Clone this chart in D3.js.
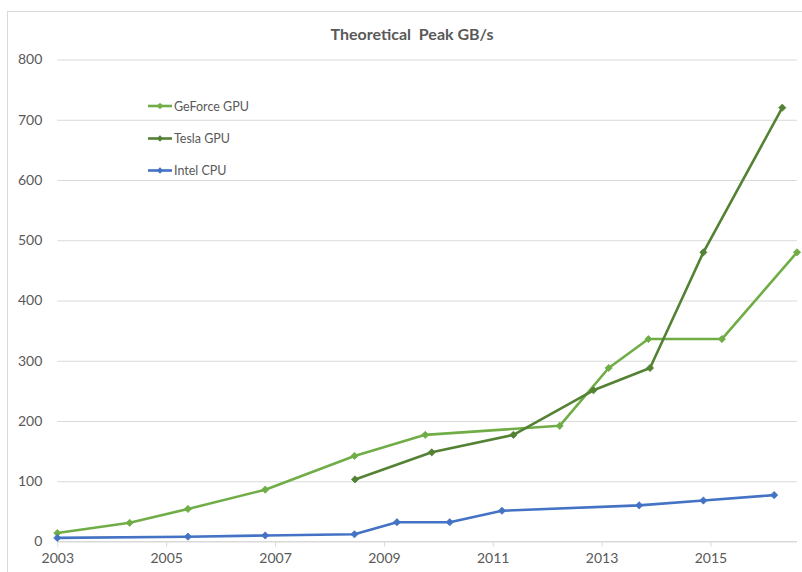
<!DOCTYPE html>
<html>
<head>
<meta charset="utf-8">
<script src="https://cdn.jsdelivr.net/npm/d3@7"></script>
<style>
  html, body { margin: 0; padding: 0; background: #fff; }
  svg { display: block; }
</style>
</head>
<body>
<svg id="chart" width="802" height="572"></svg>
<script>
// ---- data ----
const title = "Theoretical  Peak GB/s";
const seriesNames = ["GeForce GPU", "Tesla GPU", "Intel CPU"];
const seriesColors = ["#70AD47", "#548235", "#4472C4"];

const geforceYears  = [2003.0, 2004.33, 2005.40, 2006.82, 2008.46, 2009.76, 2012.23, 2013.13, 2013.86, 2015.21, 2016.59];
const geforceValues = [14, 31, 54, 86, 142, 177, 192, 288, 336, 336, 480];

const teslaYears  = [2008.47, 2009.88, 2011.38, 2012.85, 2013.89, 2014.87, 2016.32];
const teslaValues = [103, 148, 177, 251, 288, 480, 720];

const intelYears  = [2003.0, 2005.40, 2006.82, 2008.46, 2009.24, 2010.21, 2011.17, 2013.69, 2014.87, 2016.17];
const intelValues = [6, 8, 10, 12, 32, 32, 51, 60, 68, 77];

const yTicks = [0, 100, 200, 300, 400, 500, 600, 700, 800];
const xTicks = [2003, 2005, 2007, 2009, 2011, 2013, 2015];

// ---- layout ----
const svg = d3.select("#chart");
const W = 802, H = 572;
const plot = { left: 57.3, right: 797, top: 59.5, bottom: 541.5 };
const font = "Lato, 'Open Sans', sans-serif";
const textColor = "#595959";
const gridColor = "#d9d9d9";

const x = d3.scaleLinear().domain([2003, 2016.59]).range([plot.left, plot.right]);
const y = d3.scaleLinear().domain([0, 800]).range([plot.bottom, plot.top]);

// chart border
svg.append("rect")
  .attr("x", 7.5).attr("y", 11.5)
  .attr("width", W).attr("height", H)
  .attr("fill", "none").attr("stroke", gridColor).attr("stroke-width", 1);

// title
svg.append("text")
  .attr("x", 412).attr("y", 39.5)
  .attr("text-anchor", "middle")
  .attr("font-family", font).attr("font-size", 16).attr("font-weight", "bold")
  .attr("fill", textColor)
  .attr("xml:space", "preserve")
  .style("white-space", "pre")
  .text(title);

// gridlines + y labels
const yAxis = d3.axisLeft(y).tickValues(yTicks).tickSize(-(plot.right - plot.left)).tickPadding(15).tickFormat(d3.format("d"));
const gy = svg.append("g").attr("transform", `translate(${plot.left},0)`).call(yAxis);
gy.select(".domain").remove();
gy.selectAll(".tick line").attr("stroke", gridColor).attr("stroke-width", 1);
gy.selectAll(".tick text").attr("font-family", font).attr("font-size", 14).attr("fill", textColor);

// x axis
const xAxis = d3.axisBottom(x).tickValues(xTicks).tickSize(5).tickPadding(7).tickFormat(d3.format("d"));
const gx = svg.append("g").attr("transform", `translate(0,${plot.bottom})`).call(xAxis);
gx.select(".domain").attr("stroke", gridColor).attr("stroke-width", 1)
  .attr("d", `M${plot.left},0H${plot.right}`);
gx.selectAll(".tick line").attr("stroke", gridColor);
gx.selectAll(".tick text").attr("font-family", font).attr("font-size", 14).attr("fill", textColor);

// series
const series = [
  { name: seriesNames[0], color: seriesColors[0], xs: geforceYears, ys: geforceValues },
  { name: seriesNames[1], color: seriesColors[1], xs: teslaYears, ys: teslaValues },
  { name: seriesNames[2], color: seriesColors[2], xs: intelYears, ys: intelValues }
];

const line = d3.line().x(d => x(d[0])).y(d => y(d[1]));
const diamond = (cx, cy, r) => `M${cx},${cy - r}L${cx + r},${cy}L${cx},${cy + r}L${cx - r},${cy}Z`;

series.forEach(s => {
  const pts = s.xs.map((v, i) => [v, s.ys[i]]);
  const g = svg.append("g");
  g.append("path").datum(pts)
    .attr("d", line)
    .attr("fill", "none").attr("stroke", s.color).attr("stroke-width", 2.6)
    .attr("stroke-linejoin", "round").attr("stroke-linecap", "round");
  g.selectAll("path.m").data(pts).enter().append("path")
    .attr("class", "m")
    .attr("d", d => diamond(x(d[0]), y(d[1]), 3.6))
    .attr("fill", s.color).attr("stroke", s.color).attr("stroke-width", 0.8);
});

// legend
const legendY = [106, 138.5, 170.5];
series.forEach((s, i) => {
  const g = svg.append("g");
  g.append("line").attr("x1", 148).attr("x2", 172).attr("y1", legendY[i]).attr("y2", legendY[i])
    .attr("stroke", s.color).attr("stroke-width", 2.6);
  g.append("path").attr("d", diamond(160, legendY[i], 3.2)).attr("fill", s.color);
  g.append("text").attr("x", 174).attr("y", legendY[i] + 4.5)
    .attr("font-family", font).attr("font-size", 12.5).attr("fill", textColor)
    .text(s.name);
});
</script>
</body>
</html>
